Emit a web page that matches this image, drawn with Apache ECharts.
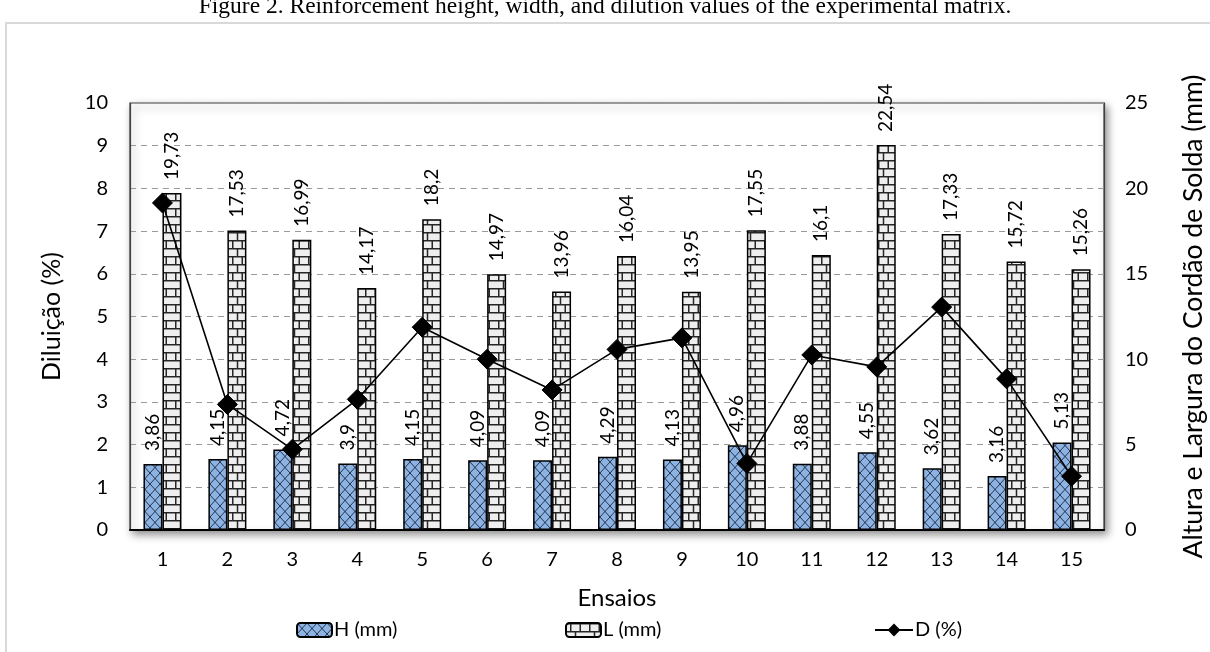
<!DOCTYPE html>
<html>
<head>
<meta charset="utf-8">
<title>Diluição, altura e largura do cordão</title>
<script src="https://cdn.jsdelivr.net/npm/echarts@6/dist/echarts.min.js"></script>
<style>
  html, body { margin: 0; padding: 0; background: #ffffff; }
  #chart { width: 1210px; height: 652px; }
</style>
</head>
<body>
<div id="chart"></div>
<script>
// Ensaios (test runs)
const categories = ['1', '2', '3', '4', '5', '6', '7', '8', '9', '10', '11', '12', '13', '14', '15'];
// Bead height H (mm) - right axis
const heightH = [3.86, 4.15, 4.72, 3.9, 4.15, 4.09, 4.09, 4.29, 4.13, 4.96, 3.88, 4.55, 3.62, 3.16, 5.13];
// Bead width L (mm) - right axis
const widthL = [19.73, 17.53, 16.99, 14.17, 18.2, 14.97, 13.96, 16.04, 13.95, 17.55, 16.1, 22.54, 17.33, 15.72, 15.26];
// Dilution D (%) - left axis
const dilutionD = [7.66, 2.94, 1.89, 3.06, 4.75, 4.0, 3.28, 4.23, 4.5, 1.56, 4.1, 3.82, 5.22, 3.54, 1.26];

const titleText = 'Figure 2. Reinforcement height, width, and dilution values of the experimental matrix.';
const FONT = 'Lato';

// Crosshatch fill for H bars
function makeHatch() {
  const c = document.createElement('canvas');
  c.width = 10; c.height = 11;
  const g = c.getContext('2d');
  g.fillStyle = '#8DB3E2';
  g.fillRect(0, 0, 10, 11);
  g.strokeStyle = 'rgba(20,30,55,0.85)';
  g.lineWidth = 1;
  g.beginPath();
  g.moveTo(0, 0); g.lineTo(10, 11);
  g.moveTo(10, 0); g.lineTo(0, 11);
  g.stroke();
  return c;
}

// Brick fill for L bars
function makeBrick() {
  const w = 19, h = 16;
  const c = document.createElement('canvas');
  c.width = w; c.height = h;
  const g = c.getContext('2d');
  g.fillStyle = '#EEEEEE';
  g.fillRect(0, 0, w, h);
  g.strokeStyle = '#262626';
  g.lineWidth = 1.5;
  g.beginPath();
  g.moveTo(0, 0.75); g.lineTo(w, 0.75);
  g.moveTo(0, 8.75); g.lineTo(w, 8.75);
  g.moveTo(4.75, 0.75); g.lineTo(4.75, 8.75);
  g.moveTo(14.25, 0.75); g.lineTo(14.25, 8.75);
  g.moveTo(9.5, 8.75); g.lineTo(9.5, h);
  g.stroke();
  return c;
}

const hatchFill = { image: makeHatch(), repeat: 'repeat' };
const brickFill = { image: makeBrick(), repeat: 'repeat' };

const fmt = (p) => String(p.value).replace('.', ',');

const barLabel = {
  show: true,
  position: 'top',
  rotate: 90,
  align: 'left',
  verticalAlign: 'middle',
  distance: 13,
  fontFamily: FONT,
  fontSize: 19,
  color: '#000',
  formatter: fmt
};

const legendText = { fontFamily: FONT, fontSize: 20, color: '#000', padding: [0, 0, 0, -3] };

const chart = echarts.init(document.getElementById('chart'), null, { renderer: 'canvas' });

chart.setOption({
  animation: false,
  backgroundColor: '#ffffff',
  graphic: [
    {
      type: 'rect',
      z: -10,
      shape: { x: 6, y: 23, width: 1224, height: 650 },
      style: { fill: '#ffffff', stroke: '#D9D9D9', lineWidth: 2 }
    },
    {
      type: 'text',
      left: 'center',
      top: -5,
      style: {
        text: titleText,
        fontFamily: 'Liberation Serif',
        fontSize: 23.5,
        fill: '#000'
      }
    }
  ],
  grid: {
    left: 130,
    right: 106,
    top: 103,
    bottom: 122,
    outerBoundsMode: 'none',
    containLabel: false,
    show: true,
    backgroundColor: '#ffffff',
    borderColor: '#404040',
    borderWidth: 1.2,
    shadowColor: 'rgba(0,0,0,0.45)',
    shadowBlur: 8,
    shadowOffsetX: 3,
    shadowOffsetY: 4
  },
  legend: [
    { data: ['H (mm)'], left: 291, top: 615, itemWidth: 35, itemHeight: 14, textStyle: legendText },
    { data: ['L (mm)'], left: 560, top: 615, itemWidth: 35, itemHeight: 14, textStyle: legendText },
    { data: ['D (%)'], left: 869, top: 615, itemWidth: 38, itemHeight: 16, textStyle: legendText }
  ],
  xAxis: {
    type: 'category',
    data: categories,
    name: 'Ensaios',
    nameLocation: 'middle',
    nameGap: 56,
    nameTextStyle: { fontFamily: FONT, fontSize: 24, color: '#000' },
    axisLine: { lineStyle: { color: '#000', width: 2 } },
    axisTick: { show: false },
    axisLabel: { fontFamily: FONT, fontSize: 20, color: '#000', margin: 20 },
    splitLine: { show: false }
  },
  yAxis: [
    {
      type: 'value',
      min: 0, max: 10, interval: 1,
      name: 'Diluição (%)',
      nameLocation: 'middle',
      nameRotate: 90,
      nameGap: 66,
      nameTextStyle: { fontFamily: FONT, fontSize: 25, color: '#000' },
      axisLine: { show: true, lineStyle: { color: '#404040', width: 1.2 } },
      axisTick: { show: false },
      axisLabel: { fontFamily: FONT, fontSize: 20, color: '#000', margin: 22 },
      splitLine: { show: true, lineStyle: { color: '#9A9A9A', width: 1.2, type: [6, 5] } }
    },
    {
      type: 'value',
      min: 0, max: 25, interval: 5,
      name: 'Altura e Largura do Cordão de Solda (mm)',
      nameLocation: 'middle',
      nameRotate: 90,
      nameGap: 76,
      nameTextStyle: { fontFamily: FONT, fontSize: 26.5, color: '#000' },
      axisLine: { show: true, lineStyle: { color: '#404040', width: 1.2 } },
      axisTick: { show: false },
      axisLabel: { fontFamily: FONT, fontSize: 20, color: '#000', margin: 21 },
      splitLine: { show: false }
    }
  ],
  series: [
    {
      name: 'H (mm)',
      type: 'bar',
      yAxisIndex: 1,
      data: heightH,
      barWidth: 19,
      barGap: '0%',
      itemStyle: { color: hatchFill, borderColor: '#000', borderWidth: 1.5 },
      label: barLabel,
      z: 2
    },
    {
      name: 'L (mm)',
      type: 'bar',
      yAxisIndex: 1,
      data: widthL,
      barWidth: 19,
      barGap: '0%',
      itemStyle: { color: brickFill, borderColor: '#000', borderWidth: 1.5 },
      label: barLabel,
      z: 2
    },
    {
      name: 'D (%)',
      type: 'line',
      yAxisIndex: 0,
      data: dilutionD,
      symbol: 'diamond',
      symbolSize: 20,
      lineStyle: { color: '#000', width: 1.6 },
      itemStyle: { color: '#000', borderColor: '#000' },
      z: 5
    }
  ]
});
</script>
</body>
</html>
